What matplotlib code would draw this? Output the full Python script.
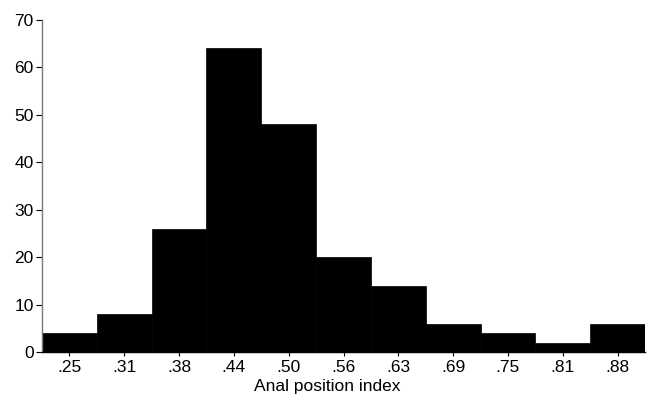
import numpy as np
import matplotlib.pyplot as plt

plt.rcParams['font.family'] = ['Liberation Sans', 'DejaVu Sans']

# bin centres of the anal position index histogram (step 1/16)
bin_centers = [0.25, 0.3125, 0.375, 0.4375, 0.50, 0.5625,
               0.625, 0.6875, 0.75, 0.8125, 0.875]
tick_labels = ['.25', '.31', '.38', '.44', '.50', '.56',
               '.63', '.69', '.75', '.81', '.88']
counts = [4, 8, 26, 64, 48, 20, 14, 6, 4, 2, 6]
bin_width = 0.0625

fig = plt.figure(figsize=(6.49, 3.97), dpi=100)
ax = fig.add_axes([42 / 649, 45 / 397, 603 / 649, 332 / 397])

ax.bar(bin_centers, counts, width=bin_width, color='black',
       edgecolor='black', linewidth=0.5, align='center')

ax.set_xlim(bin_centers[0] - bin_width / 2, bin_centers[-1] + bin_width / 2)
ax.set_ylim(0, 70)
ax.set_yticks(np.arange(0, 71, 10))
ax.set_xticks(bin_centers)
ax.set_xticklabels(tick_labels)

for side in ['top', 'right']:
    ax.spines[side].set_visible(False)
ax.spines['left'].set_color('#777777')
ax.spines['left'].set_linewidth(1.0)
ax.spines['bottom'].set_linewidth(1.0)

ax.tick_params(axis='y', direction='out', length=4, width=0.8,
               labelsize=12.5, pad=2)
ax.tick_params(axis='x', direction='out', length=3, width=0.8,
               labelsize=12.5, pad=3)
ax.set_xlabel('Anal position index', fontsize=12.5)
# the label sits a little left of the axis centre in the original
ax.xaxis.set_label_coords(0.473, -0.082)

plt.savefig('out.png', dpi=100)
